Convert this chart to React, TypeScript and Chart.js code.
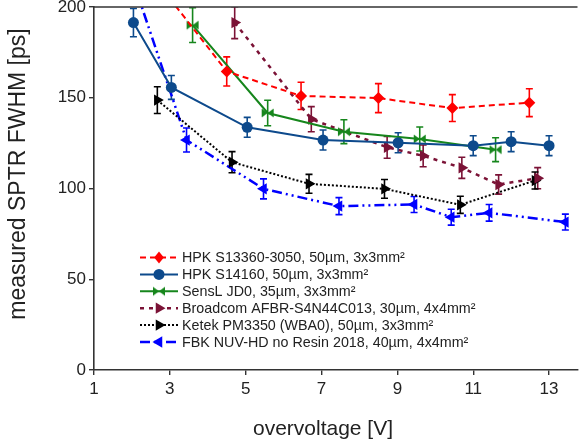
import React, { useEffect, useRef } from "react";
import { Chart, registerables } from "chart.js";

Chart.register(...registerables);

// ---- data ----
const xTicks = [1, 3, 5, 7, 9, 11, 13];
const yTicks = [0, 50, 100, 150, 200];

const s13360X = [2.5, 4.5, 6.46, 8.5, 10.45, 12.48];
const s13360Y = [218, 164.5, 151, 149.8, 144.3, 147.3];
const s13360E = [8, 8, 7.5, 8, 7.4, 7.7];

const s14160X = [2.04, 3.04, 5.04, 7.04, 9.02, 11.0, 12.0, 13.0];
const s14160Y = [191.4, 155.7, 133.7, 126.7, 125.2, 123.6, 125.8, 123.6];
const s14160E = [7.8, 6.6, 5.5, 5.5, 5.5, 5.5, 5.5, 5.5];

const sensLX = [3.6, 5.58, 7.59, 9.59, 11.59];
const sensLY = [190, 141.6, 131.3, 127.3, 121.4];
const sensLE = [9.6, 7, 6.6, 6.6, 6.6];

const broadcomX = [4.71, 6.73, 8.73, 9.68, 10.7, 11.67, 12.7];
const broadcomY = [191.4, 138.2, 122.7, 118, 111.4, 102.2, 105.7];
const broadcomE = [8.8, 6.9, 6, 6, 5.8, 5.3, 5.8];

const ketekX = [2.67, 4.64, 6.67, 8.66, 10.66, 12.63];
const ketekY = [148.7, 114.5, 102.6, 99.8, 91, 104.4];
const ketekE = [7.4, 5.8, 5.2, 5.2, 4.7, 4.7];

const fbkX = [1.44, 3.44, 5.47, 7.46, 9.44, 10.42, 11.42, 13.43];
const fbkY = [251, 126.7, 99.8, 90.3, 91.2, 84.2, 86.6, 81.5];
const fbkE = [8, 6.6, 5.5, 4.7, 4.4, 4.4, 4.6, 4.4];

const labels = [
  "HPK S13360-3050, 50\u00b5m, 3x3mm\u00b2",
  "HPK S14160, 50\u00b5m, 3x3mm\u00b2",
  "SensL JD0, 35\u00b5m, 3x3mm\u00b2",
  "Broadcom AFBR-S4N44C013, 30\u00b5m, 4x4mm\u00b2",
  "Ketek PM3350 (WBA0), 50\u00b5m, 3x3mm\u00b2",
  "FBK NUV-HD no Resin 2018, 40\u00b5m, 4x4mm\u00b2",
];

const FONT = "'Liberation Sans', Arial, sans-serif";

function makeBowtie(color: string): HTMLCanvasElement {
  const c = document.createElement("canvas");
  c.width = 14;
  c.height = 12;
  const g = c.getContext("2d")!;
  g.fillStyle = color;
  g.beginPath();
  g.moveTo(1, 1.5);
  g.lineTo(7, 6);
  g.lineTo(1, 10.5);
  g.closePath();
  g.fill();
  g.beginPath();
  g.moveTo(13, 1.5);
  g.lineTo(7, 6);
  g.lineTo(13, 10.5);
  g.closePath();
  g.fill();
  return c;
}

function drawMarker(ctx: CanvasRenderingContext2D, ds: any, x: number, y: number) {
  const style = ds.pointStyle;
  const r = ds.pointRadius;
  ctx.save();
  ctx.fillStyle = ds.pointBackgroundColor;
  ctx.setLineDash([]);
  if (typeof style !== "string") {
    ctx.drawImage(style, x - style.width / 2, y - style.height / 2);
    ctx.restore();
    return;
  }
  ctx.translate(x, y);
  ctx.rotate(((ds.pointRotation || 0) * Math.PI) / 180);
  ctx.beginPath();
  if (style === "circle") {
    ctx.arc(0, 0, r, 0, Math.PI * 2);
  } else if (style === "rectRot") {
    ctx.moveTo(0, -r);
    ctx.lineTo(r * 0.8, 0);
    ctx.lineTo(0, r);
    ctx.lineTo(-r * 0.8, 0);
  } else if (style === "triangle") {
    for (let k = 0; k < 3; k++) {
      const a = (k * 2 * Math.PI) / 3;
      const px = Math.sin(a) * r;
      const py = -Math.cos(a) * r;
      if (k === 0) ctx.moveTo(px, py);
      else ctx.lineTo(px, py);
    }
  }
  ctx.closePath();
  ctx.fill();
  ctx.restore();
}

const errorBarPlugin = {
  id: "errorBars",
  beforeDatasetsDraw(chart: any) {
    const { ctx, chartArea, scales } = chart;
    ctx.save();
    ctx.beginPath();
    ctx.rect(chartArea.left, chartArea.top, chartArea.right - chartArea.left, chartArea.bottom - chartArea.top);
    ctx.clip();
    chart.data.datasets.forEach((ds: any) => {
      ctx.strokeStyle = ds.borderColor;
      ctx.lineWidth = 1.6;
      ctx.setLineDash([]);
      ds.data.forEach((p: any, j: number) => {
        const e = ds.errors[j];
        const x = scales.x.getPixelForValue(p.x);
        const y1 = scales.y.getPixelForValue(p.y + e);
        const y2 = scales.y.getPixelForValue(p.y - e);
        ctx.beginPath();
        ctx.moveTo(x, y1);
        ctx.lineTo(x, y2);
        ctx.moveTo(x - 3.5, y1);
        ctx.lineTo(x + 3.5, y1);
        ctx.moveTo(x - 3.5, y2);
        ctx.lineTo(x + 3.5, y2);
        ctx.stroke();
      });
    });
    ctx.restore();
  },
  afterDraw(chart: any) {
    const { ctx, chartArea } = chart;
    ctx.save();
    // top frame
    ctx.strokeStyle = "#333";
    ctx.lineWidth = 1.6;
    ctx.beginPath();
    ctx.moveTo(chartArea.left, chartArea.top);
    ctx.lineTo(chartArea.right, chartArea.top);
    ctx.stroke();
    // legend
    const x0 = 140;
    const x1 = 178;
    const yStart = 257.5;
    const dy = 16.9;
    ctx.font = `14.3px ${FONT}`;
    ctx.textBaseline = "middle";
    ctx.textAlign = "left";
    chart.data.datasets.forEach((ds: any, i: number) => {
      const y = yStart + i * dy;
      ctx.strokeStyle = ds.borderColor;
      ctx.lineWidth = ds.borderWidth;
      ctx.setLineDash(ds.borderDash || []);
      ctx.beginPath();
      ctx.moveTo(x0, y);
      ctx.lineTo(x1, y);
      ctx.stroke();
      drawMarker(ctx, ds, (x0 + x1) / 2, y);
      ctx.fillStyle = "#222";
      ctx.fillText(ds.label, 182, y + 1);
    });
    // axis titles
    ctx.fillStyle = "#222";
    ctx.font = `21px ${FONT}`;
    ctx.textAlign = "center";
    ctx.textBaseline = "middle";
    ctx.fillText("overvoltage [V]", 323, 429);
    ctx.font = `23px ${FONT}`;
    ctx.translate(19, 174);
    ctx.rotate(-Math.PI / 2);
    ctx.fillText("measured SPTR FWHM [ps]", 0, 0);
    ctx.restore();
  },
};

function mk(xs: number[], ys: number[]) {
  return xs.map((x, i) => ({ x, y: ys[i] }));
}

export default function App() {
  const ref = useRef<HTMLCanvasElement>(null);
  useEffect(() => {
    const bowtie = makeBowtie("#16861c");
    const datasets: any[] = [
      { label: labels[0], data: mk(s13360X, s13360Y), errors: s13360E, borderColor: "#ff0000", pointBackgroundColor: "#ff0000", pointStyle: "rectRot", pointRadius: 6, borderDash: [6, 4], borderWidth: 2 },
      { label: labels[1], data: mk(s14160X, s14160Y), errors: s14160E, borderColor: "#0d4a8c", pointBackgroundColor: "#0d4a8c", pointStyle: "circle", pointRadius: 5.5, borderDash: [], borderWidth: 2 },
      { label: labels[2], data: mk(sensLX, sensLY), errors: sensLE, borderColor: "#16861c", pointBackgroundColor: "#16861c", pointStyle: bowtie, pointRadius: 6, borderDash: [], borderWidth: 2 },
      { label: labels[3], data: mk(broadcomX, broadcomY), errors: broadcomE, borderColor: "#7b1236", pointBackgroundColor: "#7b1236", pointStyle: "triangle", pointRotation: 90, pointRadius: 6.5, borderDash: [4, 5], borderWidth: 2.5 },
      { label: labels[4], data: mk(ketekX, ketekY), errors: ketekE, borderColor: "#000000", pointBackgroundColor: "#000000", pointStyle: "triangle", pointRotation: 90, pointRadius: 6.5, borderDash: [2, 2], borderWidth: 2 },
      { label: labels[5], data: mk(fbkX, fbkY), errors: fbkE, borderColor: "#0000ff", pointBackgroundColor: "#0000ff", pointStyle: "triangle", pointRotation: -90, pointRadius: 6.5, borderDash: [10, 4, 2, 4, 2, 4], borderWidth: 2.5 },
    ];
    datasets.forEach((d) => {
      d.showLine = true;
      d.pointBorderWidth = 0;
      d.pointBorderColor = d.borderColor;
      d.fill = false;
      d.tension = 0;
    });
    const chart = new Chart(ref.current!, {
      type: "scatter",
      data: { datasets },
      options: {
        animation: false,
        responsive: true,
        maintainAspectRatio: false,
        layout: { padding: { top: 7, right: 0, left: 0, bottom: 0 } },
        plugins: { legend: { display: false }, tooltip: { enabled: false } },
        scales: {
          x: {
            type: "linear",
            min: 1,
            max: 13.75,
            afterBuildTicks: (s: any) => {
              s.ticks = xTicks.map((v) => ({ value: v }));
            },
            afterFit: (s: any) => {
              s.height = 78;
              s.paddingLeft = 0;
              s.paddingRight = 0;
            },
            grid: { display: true, drawOnChartArea: false, tickLength: 5, color: "#333", lineWidth: 1.4 },
            border: { display: true, color: "#333", width: 1.6 },
            ticks: { color: "#222", font: { family: FONT, size: 17 }, padding: 4, maxRotation: 0, autoSkip: false },
          },
          y: {
            type: "linear",
            min: 0,
            max: 200,
            afterBuildTicks: (s: any) => {
              s.ticks = yTicks.map((v) => ({ value: v }));
            },
            afterFit: (s: any) => {
              s.width = 94;
              s.paddingTop = 0;
              s.paddingBottom = 0;
            },
            grid: { display: true, drawOnChartArea: false, tickLength: 5, color: "#333", lineWidth: 1.4 },
            border: { display: true, color: "#333", width: 1.6 },
            ticks: { color: "#222", font: { family: FONT, size: 17 }, padding: 3 },
          },
        },
      },
      plugins: [errorBarPlugin],
    } as any);
    return () => chart.destroy();
  }, []);
  return (
    <div style={{ position: "fixed", left: 0, top: 0, width: 584, height: 448, background: "#fff" }}>
      <canvas ref={ref} />
    </div>
  );
}
